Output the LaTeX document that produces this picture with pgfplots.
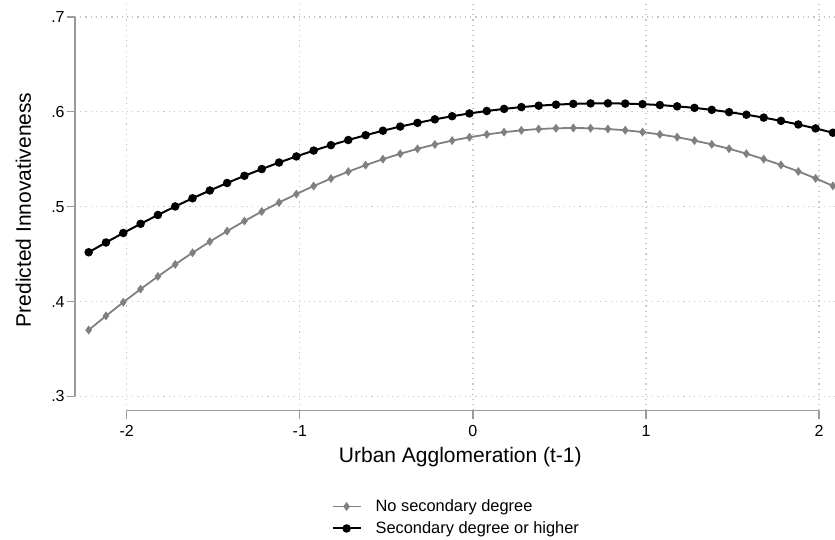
\documentclass[border=0pt]{standalone}
\usepackage{pgfplots}
\pgfplotsset{compat=1.18}
\usepackage{fontspec}
\setmainfont{Liberation Sans}
\definecolor{grayline}{RGB}{128,128,128}
\definecolor{axisc}{RGB}{155,155,155}
\definecolor{gridc}{RGB}{200,200,200}
\begin{document}
\begin{tikzpicture}
\begin{axis}[
  scale only axis,
  width=380pt, height=205.35pt,
  xmin=-2.299, xmax=2.092,
  ymin=0.285, ymax=0.7179,
  clip=false,
  axis line style={draw=none},
  xtick={-2,-1,0,1,2},
  xticklabels={-2,-1,0,1,2},
  ytick={0.3,0.4,0.5,0.6,0.7},
  yticklabels={.3,.4,.5,.6,.7},
  xtick pos=bottom, ytick pos=left,
  tick align=outside,
  major tick length=4pt,
  tick style={axisc, line width=0.6pt},
  grid=major,
  major grid style={gridc, line width=0.6pt, dash pattern=on 0.6pt off 2pt},
  ticklabel style={font=\fontsize{8}{9}\selectfont, inner sep=1pt},
  xticklabel style={yshift=-2pt},
  /pgf/number format/assume math mode=true,
  xlabel={Urban Agglomeration (t-1)},
  ylabel={Predicted Innovativeness},
  xlabel style={font=\fontsize{10.5}{12}\selectfont, at={(axis description cs:0.507,-0.113)}, anchor=center},
  ylabel style={font=\fontsize{10.5}{12}\selectfont, at={(axis description cs:-0.068,0.489)}, anchor=center},
  legend style={at={(axis description cs:0.501,-0.26)}, anchor=center, draw=none, fill=none,
    font=\fontsize{8.2}{9}\selectfont, row sep=2pt,
    nodes={inner sep=0.5pt, text height=6.5pt, text depth=1.5pt},
    /tikz/every odd column/.append style={column sep=6.5pt}},
  legend cell align=left,
  legend image code/.code={\draw[mark repeat=2,mark phase=2,#1] plot coordinates {(0pt,0pt) (7pt,0pt) (14pt,0pt)};},
]
\addplot[grayline, line width=0.9pt, mark=diamond*, mark size=1.5pt, mark options={fill=grayline, draw=grayline}] coordinates {
(-2.22,0.3700) (-2.12,0.3849) (-2.02,0.3993) (-1.92,0.4132) (-1.82,0.4265)
(-1.72,0.4392) (-1.62,0.4515) (-1.52,0.4632) (-1.42,0.4743) (-1.32,0.4849)
(-1.22,0.4949) (-1.12,0.5044) (-1.02,0.5134) (-0.92,0.5218) (-0.82,0.5297)
(-0.72,0.5370) (-0.62,0.5438) (-0.52,0.5501) (-0.42,0.5558) (-0.32,0.5610)
(-0.22,0.5656) (-0.12,0.5697) (-0.02,0.5732) (0.08,0.5762) (0.18,0.5786)
(0.28,0.5805) (0.38,0.5819) (0.48,0.5827) (0.58,0.5830) (0.68,0.5827)
(0.78,0.5819) (0.88,0.5806) (0.98,0.5787) (1.08,0.5762) (1.18,0.5733)
(1.28,0.5697) (1.38,0.5657) (1.48,0.5611) (1.58,0.5559) (1.68,0.5502)
(1.78,0.5440) (1.88,0.5372) (1.98,0.5299) (2.08,0.5220)
};
\addlegendentry{No secondary degree}
\addplot[black, line width=1pt, mark=*, mark size=1.6pt, mark options={fill=black, draw=black}] coordinates {
(-2.22,0.4520) (-2.12,0.4623) (-2.02,0.4723) (-1.92,0.4820) (-1.82,0.4913)
(-1.72,0.5003) (-1.62,0.5089) (-1.52,0.5171) (-1.42,0.5250) (-1.32,0.5326)
(-1.22,0.5397) (-1.12,0.5466) (-1.02,0.5530) (-0.92,0.5592) (-0.82,0.5649)
(-0.72,0.5703) (-0.62,0.5754) (-0.52,0.5801) (-0.42,0.5845) (-0.32,0.5884)
(-0.22,0.5921) (-0.12,0.5954) (-0.02,0.5983) (0.08,0.6009) (0.18,0.6031)
(0.28,0.6050) (0.38,0.6065) (0.48,0.6076) (0.58,0.6084) (0.68,0.6089)
(0.78,0.6090) (0.88,0.6087) (0.98,0.6081) (1.08,0.6072) (1.18,0.6058)
(1.28,0.6042) (1.38,0.6021) (1.48,0.5997) (1.58,0.5970) (1.68,0.5939)
(1.78,0.5905) (1.88,0.5867) (1.98,0.5825) (2.08,0.5780)
};
\addlegendentry{Secondary degree or higher}
\draw[axisc, line width=0.6pt] (axis cs:-2,0.285) -- (axis cs:2,0.285);
\draw[axisc, line width=0.6pt] (axis cs:-2.299,0.3) -- (axis cs:-2.299,0.7);
\coordinate (sw) at (rel axis cs:0,0);
\coordinate (ne) at (rel axis cs:1,1);
\end{axis}
\pgfresetboundingbox
\path[use as bounding box] ([shift={(-37.5pt,-64.65pt)}]sw) rectangle (ne);
\end{tikzpicture}
\end{document}
